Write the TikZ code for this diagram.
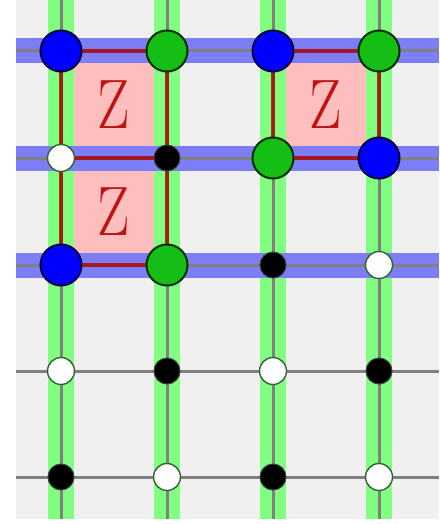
\documentclass[tikz,border=0pt]{standalone}
\usepackage{graphicx}
\definecolor{bgc}{RGB}{240,240,240}
\definecolor{stripeg}{RGB}{128,255,128}
\definecolor{stripeb}{RGB}{125,125,245}
\definecolor{gridc}{RGB}{128,128,128}
\definecolor{pinkc}{RGB}{255,190,190}
\definecolor{edgec}{RGB}{176,0,0}
\definecolor{zc}{RGB}{190,20,20}
\definecolor{qblue}{RGB}{0,0,255}
\definecolor{qblueline}{RGB}{0,0,70}
\definecolor{qgreen}{RGB}{20,190,20}
\definecolor{qgreenline}{RGB}{0,50,0}
\tikzset{
  gstripe/.style={draw=stripeg, line width=26pt},
  bstripe/.style={draw=stripeb, line width=25pt},
  gridline/.style={draw=gridc, line width=3pt},
  edgeline/.style={draw=edgec, draw opacity=0.8, line width=3.5pt},
  cellfill/.style={fill=pinkc},
  zlabel/.style={text=zc, font=\fontsize{70}{70}\selectfont, inner sep=0pt},
  bluenode/.style={circle, inner sep=0pt, minimum size=41pt, fill=qblue, draw=qblueline, line width=2pt},
  greennode/.style={circle, inner sep=0pt, minimum size=41pt, fill=qgreen, draw=qgreenline, line width=2pt},
  whitenode/.style={circle, inner sep=0pt, minimum size=27pt, fill=white, draw=black!70!green!60!gray, line width=1.4pt},
  blacknode/.style={circle, inner sep=0pt, minimum size=26pt, fill=black, draw=black!75, line width=1pt},
}
\begin{document}
\begin{tikzpicture}[x=1pt,y=-1pt]
\useasboundingbox (0,0) rectangle (439,524);
\fill[bgc] (16,0) rectangle (439,519);
% grid coordinates
\foreach \c/\x in {1/61,2/167,3/273,4/379} {
  \coordinate (T\c) at (\x,0);
  \coordinate (B\c) at (\x,519);
}
\foreach \r/\y in {1/51,2/158,3/265,4/371,5/477} {
  \coordinate (L\r) at (16,\y);
  \coordinate (R\r) at (439,\y);
  \foreach \c/\x in {1/61,2/167,3/273,4/379} {
    \coordinate (p\r\c) at (\x,\y);
  }
}
% pink cells
\fill[cellfill] (p11) rectangle (p22);
\fill[cellfill] (p21) rectangle (p32);
\fill[cellfill] (p13) rectangle (p24);
% stripes
\foreach \c in {1,2,3,4} \draw[gstripe] (T\c) -- (B\c);
\foreach \r in {1,2,3} \draw[bstripe] (L\r) -- (R\r);
% grid lines
\foreach \c in {1,2,3,4} \draw[gridline] (T\c) -- (B\c);
\foreach \r in {1,2,3,4,5} \draw[gridline] (L\r) -- (R\r);
% red edges
\draw[edgeline] (p11) -- (p12);
\draw[edgeline] (p21) -- (p22);
\draw[edgeline] (p31) -- (p32);
\draw[edgeline] (p11) -- (p31);
\draw[edgeline] (p12) -- (p32);
\draw[edgeline] (p13) -- (p14);
\draw[edgeline] (p23) -- (p24);
\draw[edgeline] (p13) -- (p23);
\draw[edgeline] (p14) -- (p24);
% Z labels
\node[zlabel] (z1) at (114,105) {\scalebox{0.82}[1]{Z}};
\node[zlabel] (z2) at (114,212) {\scalebox{0.82}[1]{Z}};
\node[zlabel] (z3) at (326,105) {\scalebox{0.82}[1]{Z}};
% qubits
\node[bluenode]  (n11) at (p11) {};
\node[greennode] (n12) at (p12) {};
\node[bluenode]  (n13) at (p13) {};
\node[greennode] (n14) at (p14) {};
\node[whitenode] (n21) at (p21) {};
\node[blacknode] (n22) at (p22) {};
\node[greennode] (n23) at (p23) {};
\node[bluenode]  (n24) at (p24) {};
\node[bluenode]  (n31) at (p31) {};
\node[greennode] (n32) at (p32) {};
\node[blacknode] (n33) at (p33) {};
\node[whitenode] (n34) at (p34) {};
\node[whitenode] (n41) at (p41) {};
\node[blacknode] (n42) at (p42) {};
\node[whitenode] (n43) at (p43) {};
\node[blacknode] (n44) at (p44) {};
\node[blacknode] (n51) at (p51) {};
\node[whitenode] (n52) at (p52) {};
\node[blacknode] (n53) at (p53) {};
\node[whitenode] (n54) at (p54) {};
\end{tikzpicture}
\end{document}
